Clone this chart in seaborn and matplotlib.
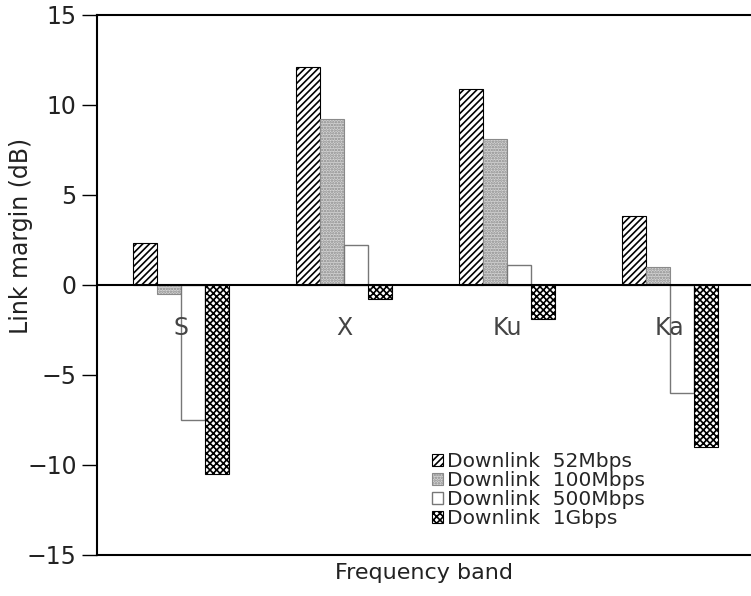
import numpy as np
import pandas as pd
import matplotlib
matplotlib.use("Agg")
import matplotlib.pyplot as plt
import seaborn as sns

# values
bands = ["S", "X", "Ku", "Ka"]
rates = ["Downlink  52Mbps", "Downlink  100Mbps", "Downlink  500Mbps", "Downlink  1Gbps"]
dl_52 = [2.3, 12.1, 10.9, 3.8]
dl_100 = [-0.5, 9.2, 8.1, 1.0]
dl_500 = [-7.5, 2.2, 1.1, -6.0]
dl_1g = [-10.5, -0.8, -1.9, -9.0]

df = pd.DataFrame({
    "band": bands * 4,
    "rate": np.repeat(rates, 4),
    "margin": dl_52 + dl_100 + dl_500 + dl_1g,
})

sns.set_style("white")
plt.rcParams["font.family"] = ["DejaVu Sans"]
plt.rcParams["hatch.linewidth"] = 1.2

fig, ax = plt.subplots(figsize=(7.51, 5.96), dpi=100)
fig.subplots_adjust(left=0.129, right=1.0, top=0.975, bottom=0.069)

sns.barplot(data=df, x="band", y="margin", hue="rate", order=bands,
            hue_order=rates, width=0.59, gap=0, legend=False, ax=ax)

styles = [
    dict(facecolor="white", edgecolor="black", hatch="/////", linewidth=0.8),
    dict(facecolor="#d4d4d4", edgecolor="#8a8a8a", hatch="......", linewidth=0.8),
    dict(facecolor="white", edgecolor="#777777", hatch=None, linewidth=1.0),
    dict(facecolor="white", edgecolor="black", hatch="xxxxx", linewidth=0.8),
]
for cont, st in zip(ax.containers, styles):
    for bar in cont:
        bar.set_facecolor(st["facecolor"])
        bar.set_edgecolor(st["edgecolor"])
        bar.set_hatch(st["hatch"])
        bar.set_linewidth(st["linewidth"])

ax.axhline(0, color="black", lw=1.5, zorder=5)
ax.set_ylim(-15, 15)
ax.set_xlim(-0.52, 3.5)
ax.set_yticks([-15, -10, -5, 0, 5, 10, 15])
ax.set_yticklabels(["\u221215", "\u221210", "\u22125", "0", "5", "10", "15"])
ax.tick_params(axis="y", which="major", direction="out", length=11, width=1,
               labelsize=17, left=True, colors="black", labelcolor="#222222")
ax.set_xticks([])
for i, b in enumerate(bands):
    ax.text(i, -1.75, b, ha="center", va="top", fontsize=17, color="#444444")

ax.set_ylabel("Link margin (dB)", fontsize=17, color="#222222")
ax.yaxis.set_label_coords(-0.097, 0.59)
ax.set_xlabel("Frequency band", fontsize=16, color="#222222", labelpad=6)

for s in ["left", "top", "bottom"]:
    ax.spines[s].set_color("black")
    ax.spines[s].set_linewidth(1.5)
ax.spines["right"].set_visible(False)

ax.legend(handles=list(ax.containers), labels=rates, loc="lower left",
          bbox_to_anchor=(0.5, 0.035), frameon=False, fontsize=14.5,
          handlelength=0.55, handleheight=0.55, handletextpad=0.2,
          labelspacing=0.0, borderaxespad=0)

fig.savefig("out.png", dpi=100)
